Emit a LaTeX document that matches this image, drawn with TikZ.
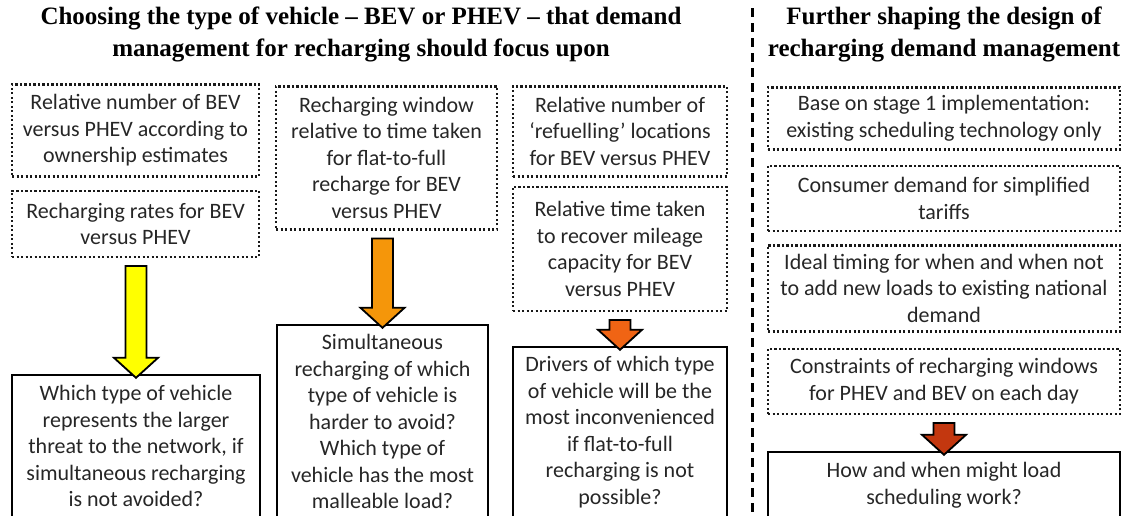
\documentclass[tikz,border=0pt]{standalone}
\usepackage{fontspec}
\setmainfont{Carlito}
\newfontfamily\titlefont{Liberation Serif}
\usetikzlibrary{positioning,calc}

\definecolor{arryellow}{RGB}{255,255,0}
\definecolor{arrorange}{RGB}{245,150,10}
\definecolor{arrdeep}{RGB}{240,100,20}
\definecolor{arrred}{RGB}{195,55,15}

% fat block arrow from the foot of one node to the head of another
\newcommand{\fatarrow}[3]{%
  \filldraw[fatarr,fill=#1] let \p1=(#2.south), \p2=(#3.north) in
    (\x2-10.5pt,\y1-8pt) -- (\x2+10.5pt,\y1-8pt) -- (\x2+10.5pt,\y2+16pt)
    -- (\x2+22pt,\y2+16pt) -- (\x2,\y2-4pt) -- (\x2-22pt,\y2+16pt)
    -- (\x2-10.5pt,\y2+16pt) -- cycle;}

\begin{document}
\begin{tikzpicture}[x=1pt,y=-1pt,
  dotbox/.style={draw=black!90,line width=2.5pt,dash pattern=on 2.2pt off 2.3pt,
    align=center,text=black!85,inner sep=3pt,font=\fontsize{22}{26.5}\selectfont},
  askbox/.style={draw=black,line width=2.4pt,align=center,text=black!85,
    inner sep=3pt,font=\fontsize{22}{26.5}\selectfont},
  title/.style={align=center,font=\titlefont\bfseries\fontsize{25}{32}\selectfont},
  fatarr/.style={draw=black,line width=1.8pt,line join=miter}]

  \useasboundingbox (0,0) rectangle (1130,515);
  \clip (0,0) rectangle (1130,515);

  % headings and divider
  \node[title] (t1) at (361,34) {Choosing the type of vehicle – BEV or PHEV – that demand\\management for recharging should focus upon};
  \node[title] (t2) at (944,34) {Further shaping the design of\\recharging demand management};
  \draw[line width=3pt,dash pattern=on 9pt off 6pt] (752,8) -- (752,520);

  % column 1
  \node[dotbox,minimum width=247pt,minimum height=92pt,anchor=north] (a1) at (135.5,83) {Relative number of BEV\\versus PHEV according to\\ownership estimates};
  \node[dotbox,minimum width=247pt,minimum height=66pt] (a2) [below=12pt of a1] {Recharging rates for BEV\\versus PHEV};
  \node[askbox,minimum width=248pt,minimum height=142pt] (a3) at (136,446) {Which type of vehicle\\represents the larger\\threat to the network, if\\simultaneous recharging\\is not avoided?};

  % column 2
  \node[dotbox,minimum width=221pt,minimum height=143pt,anchor=north] (b1) at (386.5,85) {Recharging window\\relative to time taken\\for flat-to-full\\recharge for BEV\\versus PHEV};
  \node[askbox,minimum width=211pt,minimum height=193pt] (b2) at (382.5,421.5) {Simultaneous\\recharging of which\\type of vehicle is\\harder to avoid?\\Which type of\\vehicle has the most\\malleable load?};

  % column 3
  \node[dotbox,minimum width=214pt,minimum height=90pt,anchor=north] (c1) at (620,85) {Relative number of\\‘refuelling’ locations\\for BEV versus PHEV};
  \node[dotbox,minimum width=214pt,minimum height=124pt] (c2) [below=8pt of c1] {Relative time taken\\to recover mileage\\capacity for BEV\\versus PHEV};
  \node[askbox,minimum width=214pt,minimum height=170pt] (c3) at (620,432) {Drivers of which type\\of vehicle will be the\\most inconvenienced\\if flat-to-full\\recharging is not\\possible?};

  % column 4
  \node[dotbox,minimum width=352pt,minimum height=62pt,anchor=north] (d1) at (944,86) {Base on stage 1 implementation:\\existing scheduling technology only};
  \node[dotbox,minimum width=352pt,minimum height=65pt] (d2) [below=14pt of d1] {Consumer demand for simplified\\tariffs};
  \node[dotbox,minimum width=352pt,minimum height=86pt] (d3) [below=12pt of d2] {Ideal timing for when and when not\\to add new loads to existing national\\demand};
  \node[dotbox,minimum width=352pt,minimum height=65pt] (d4) [below=15pt of d3] {Constraints of recharging windows\\for PHEV and BEV on each day};
  \node[askbox,minimum width=352pt,minimum height=66pt] (d5) at (944,485) {How and when might load\\scheduling work?};

  \fatarrow{arryellow}{a2}{a3}
  \fatarrow{arrorange}{b1}{b2}
  \fatarrow{arrdeep}{c2}{c3}
  \fatarrow{arrred}{d4}{d5}
\end{tikzpicture}
\end{document}
